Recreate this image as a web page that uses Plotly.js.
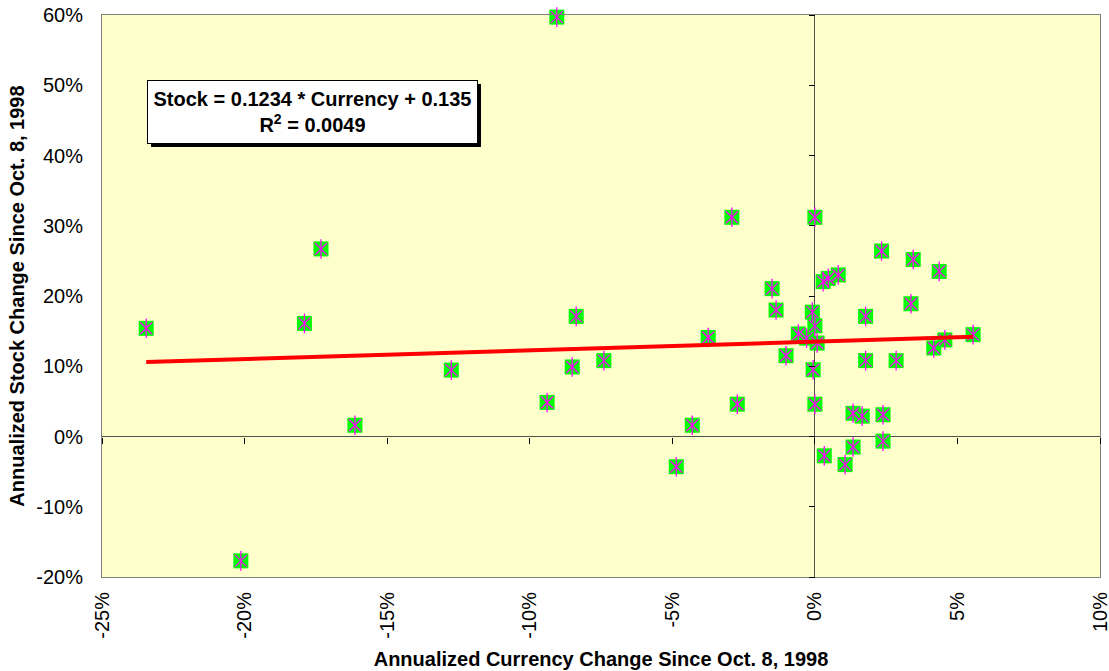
<!DOCTYPE html>
<html>
<head>
<meta charset="utf-8">
<script src="https://cdn.plot.ly/plotly-3.0.1.min.js"></script>
<style>html,body{margin:0;padding:0;background:#fff}#chart{width:1109px;height:671px}</style>
</head>
<body>
<div id="chart"></div>
<script>
// Annualized currency change (x) and stock change (y), as fractions
const currencyChange = [-0.2345,-0.2013,-0.179,-0.1732,-0.1613,-0.1275,-0.0939,-0.0905,-0.0851,-0.0837,-0.074,
  -0.0486,-0.043,-0.0374,-0.0291,-0.0272,-0.015,-0.0136,-0.0101,-0.0058,-0.0029,-0.0009,0.0,0.0008,-0.0006,0.0,0.0,
  0.0029,0.0047,0.0082,0.0033,0.0106,0.0134,0.0166,0.0134,0.0178,0.0178,0.0234,0.0239,0.0239,0.0285,0.0337,0.0345,
  0.0417,0.0436,0.0456,0.0555];
const stockChange = [0.154,-0.177,0.161,0.267,0.016,0.0945,0.0485,0.597,0.099,0.171,0.108,
  -0.043,0.016,0.141,0.312,0.046,0.2105,0.18,0.115,0.146,0.14,0.177,0.1575,0.133,0.095,0.046,0.312,
  0.2205,0.225,0.23,-0.0275,-0.04,0.033,0.029,-0.015,0.171,0.108,0.264,0.031,-0.0066,0.108,0.189,0.252,
  0.126,0.235,0.1375,0.145];
const slope = 0.1234;
const intercept = 0.135;
const equationText = "Stock = 0.1234 * Currency + 0.135<br>R<sup>2</sup> = 0.0049";
const xTickVals = [-0.25,-0.2,-0.15,-0.1,-0.05,0,0.05,0.1];
const xTickText = ["-25%","-20%","-15%","-10%","-5%","0%","5%","10%"];
const yTickVals = [-0.2,-0.1,0,0.1,0.2,0.3,0.4,0.5,0.6];
const yTickText = ["-20%","-10%","0%","10%","20%","30%","40%","50%","60%"];
const xTitle = "Annualized Currency Change Since Oct. 8, 1998";
const yTitle = "Annualized Stock Change Since Oct. 8, 1998";

const xMin = Math.min(...currencyChange), xMax = Math.max(...currencyChange);
const trendX = [xMin, xMax];
const trendY = trendX.map(v => slope * v + intercept);

const FONT = "Liberation Sans, Arial, sans-serif";
const traces = [
  {x: trendX, y: trendY, xaxis: 'x2', yaxis: 'y2', mode: 'lines', line: {color: '#ff0000', width: 4}, hoverinfo: 'skip'},
  {x: currencyChange, y: stockChange, mode: 'markers', cliponaxis: false,
   marker: {symbol: 'square', size: 15, color: '#00ff00', line: {width: 0}}},
  {x: currencyChange, y: stockChange, mode: 'markers', cliponaxis: false,
   marker: {symbol: 'x-thin-open', size: 12, color: '#ff00ff', line: {color: '#ff00ff', width: 1.3}}},
  {x: currencyChange, y: stockChange, mode: 'markers', cliponaxis: false,
   marker: {symbol: 'line-ns-open', size: 14, color: '#ff00ff', line: {color: '#ff00ff', width: 1.3}}}
];
const xr = [-0.25, 0.1], yr = [-0.2, 0.6];
const layout = {
  width: 1109, height: 671,
  margin: {l: 102, r: 9, t: 15, b: 94},
  paper_bgcolor: '#ffffff', plot_bgcolor: '#ffffcc',
  showlegend: false,
  font: {family: FONT, color: '#000'},
  xaxis: {range: xr, tickvals: xTickVals, ticktext: xTickText, tickangle: -90,
    tickfont: {size: 20, family: FONT}, ticklabelstandoff: 6, ticklabeloverflow: 'allow',
    showgrid: false, showline: true, mirror: true,
    linecolor: '#808080', linewidth: 1, zeroline: true, zerolinecolor: '#505050', zerolinewidth: 1,
    ticks: '', title: {text: xTitle, font: {size: 20, family: FONT, weight: 'bold'}, standoff: 14}},
  yaxis: {range: yr, tickvals: yTickVals, ticktext: yTickText,
    tickfont: {size: 20, family: FONT}, ticklabelstandoff: 14,
    showgrid: false, showline: true, mirror: true,
    linecolor: '#808080', linewidth: 1, zeroline: true, zerolinecolor: '#505050', zerolinewidth: 1,
    ticks: '', title: {text: yTitle, font: {size: 20, family: FONT, weight: 'bold'}, standoff: 6}},
  xaxis2: {range: xr, overlaying: 'x', anchor: 'free', position: 0.25, side: 'bottom',
    tickvals: xTickVals, showticklabels: false, ticks: 'outside', ticklen: 6, tickcolor: '#000',
    showline: false, showgrid: false, zeroline: false},
  yaxis2: {range: yr, overlaying: 'y', anchor: 'free', position: 25/35, side: 'left',
    tickvals: yTickVals, showticklabels: false, ticks: 'outside', ticklen: 6, tickcolor: '#000',
    showline: false, showgrid: false, zeroline: false},
  shapes: [
    {type: 'rect', xref: 'paper', yref: 'paper', x0: (151-102)/998, x1: (481-102)/998,
     y0: (577-147)/562, y1: (577-84)/562, fillcolor: '#000', line: {width: 0}, layer: 'above'}
  ],
  annotations: [
    {xref: 'paper', yref: 'paper', x: (312.5-102)/998, y: (577-112)/562, xanchor: 'center', yanchor: 'middle',
     text: equationText, showarrow: false, align: 'center', bgcolor: '#ffffff', bordercolor: '#000',
     borderwidth: 1, borderpad: 2, width: 325, height: 58,
     font: {size: 20, family: FONT, weight: 'bold', color: '#000'}}
  ]
};
Plotly.newPlot('chart', traces, layout, {displayModeBar: false, staticPlot: true});
</script>
</body>
</html>
